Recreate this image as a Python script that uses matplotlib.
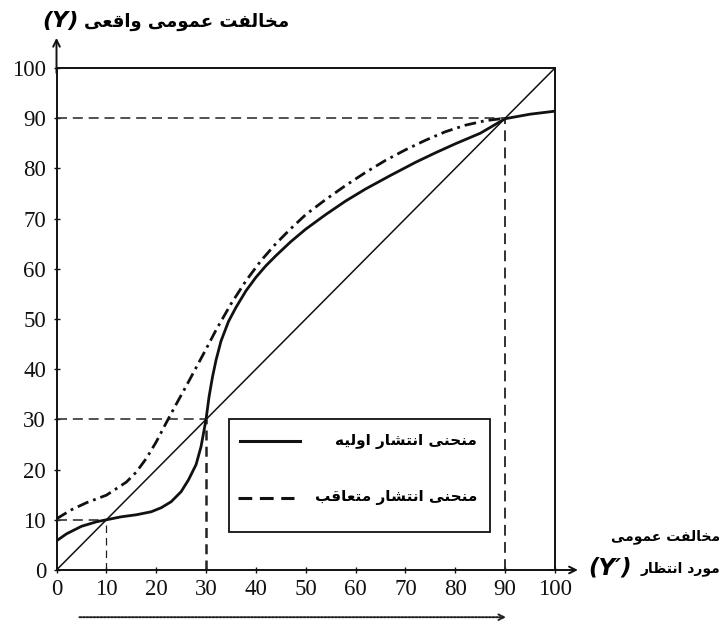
import matplotlib
matplotlib.use("Agg")
import matplotlib.pyplot as plt
from matplotlib.patches import Rectangle
from matplotlib.lines import Line2D

# ---------------- data ----------------
ticks = [0, 10, 20, 30, 40, 50, 60, 70, 80, 90, 100]
tick_labels = [str(t) for t in ticks]

# initial spread curve (solid)
initial_x = [0, 2, 5, 8, 10, 13, 16, 19, 21, 23, 25, 26.5, 28, 29, 30, 30.6, 31.3, 32, 33,
             34.5, 36, 38, 40, 42, 44, 47, 50, 54, 58, 62, 67, 72, 76, 80, 85, 90, 95, 100]
initial_y = [5.8, 7.2, 8.7, 9.6, 10, 10.6, 11.0, 11.6, 12.4, 13.6, 15.6, 18.0, 21.0, 24.6, 30,
             34.5, 38.5, 41.8, 45.6, 49.5, 52.3, 55.6, 58.3, 60.6, 62.6, 65.4, 67.9, 70.8,
             73.5, 75.9, 78.6, 81.2, 83.1, 84.9, 87.0, 89.9, 90.8, 91.4]

# subsequent spread curve (dash-dot)
subseq_x = [0, 3, 6, 10, 14, 16, 18, 20, 22, 24, 26, 28, 30, 32, 35, 38, 41, 44, 47, 50,
            54, 58, 62, 66, 70, 74, 78, 82, 86, 90]
subseq_y = [10.2, 12.0, 13.4, 14.9, 17.5, 19.5, 22.2, 25.5, 29.3, 33.0, 36.6, 40.3, 44.0,
            47.8, 53.0, 57.6, 61.6, 65.0, 68.0, 70.8, 73.8, 76.6, 79.2, 81.6, 83.7, 85.6,
            87.3, 88.6, 89.5, 90]

# equality line
diag_x = [0, 100]
diag_y = [0, 100]

# reference (equilibrium) levels
ref_levels = [10, 30, 90]

title_fa = "مخالفت عمومی واقعی"
xlabel_fa_1 = "مخالفت عمومی"
xlabel_fa_2 = "مورد انتظار"
legend_fa_1 = "منحنی انتشار اولیه"
legend_fa_2 = "منحنی انتشار متعاقب"

# ---------------- Persian shaping (presentation forms, visual order) ----------------
FORMS = {  # isolated, final, initial, medial
    'ا': ('\uFE8D', '\uFE8E', None, None),
    'د': ('\uFEA9', '\uFEAA', None, None),
    'ر': ('\uFEAD', '\uFEAE', None, None),
    'و': ('\uFEED', '\uFEEE', None, None),
    'ب': ('\uFE8F', '\uFE90', '\uFE91', '\uFE92'),
    'ت': ('\uFE95', '\uFE96', '\uFE97', '\uFE98'),
    'ح': ('\uFEA1', '\uFEA2', '\uFEA3', '\uFEA4'),
    'خ': ('\uFEA5', '\uFEA6', '\uFEA7', '\uFEA8'),
    'ش': ('\uFEB5', '\uFEB6', '\uFEB7', '\uFEB8'),
    'ظ': ('\uFEC5', '\uFEC6', '\uFEC7', '\uFEC8'),
    'ع': ('\uFEC9', '\uFECA', '\uFECB', '\uFECC'),
    'ف': ('\uFED1', '\uFED2', '\uFED3', '\uFED4'),
    'ق': ('\uFED5', '\uFED6', '\uFED7', '\uFED8'),
    'ل': ('\uFEDD', '\uFEDE', '\uFEDF', '\uFEE0'),
    'م': ('\uFEE1', '\uFEE2', '\uFEE3', '\uFEE4'),
    'ن': ('\uFEE5', '\uFEE6', '\uFEE7', '\uFEE8'),
    'ه': ('\uFEE9', '\uFEEA', '\uFEEB', '\uFEEC'),
    'ی': ('\uFEEF', '\uFEF0', '\uFEF3', '\uFEF4'),
}


def shape(text):
    out = []
    n = len(text)
    for i, ch in enumerate(text):
        if ch not in FORMS:
            out.append(ch)
            continue
        prev = text[i - 1] if i > 0 else None
        nxt = text[i + 1] if i < n - 1 else None
        joins_prev = prev in FORMS and FORMS[prev][2] is not None
        joins_next = FORMS[ch][2] is not None and nxt in FORMS
        iso, fin, ini, med = FORMS[ch]
        if joins_prev and joins_next:
            out.append(med)
        elif joins_prev:
            out.append(fin)
        elif joins_next:
            out.append(ini)
        else:
            out.append(iso)
    return "".join(out)[::-1]


FA = ["DejaVu Sans"]
NUM = ["Liberation Serif", "DejaVu Serif"]
INK = "#111111"

# ---------------- figure ----------------
W, H = 722, 625
fig = plt.figure(figsize=(W / 100, H / 100), dpi=100)
ax = fig.add_axes([56.5 / W, 55 / H, 498.5 / W, 502 / H])
ax.set_xlim(0, 100)
ax.set_ylim(0, 100)

for s in ax.spines.values():
    s.set_linewidth(1.4)
    s.set_color(INK)

ax.set_xticks(ticks)
ax.set_xticklabels(tick_labels, fontfamily=NUM, fontsize=16.5)
ax.set_yticks(ticks)
ax.set_yticklabels(tick_labels, fontfamily=NUM, fontsize=16.5)
ax.tick_params(axis="both", direction="inout", length=5, width=1.0, colors=INK)
ax.tick_params(axis="x", pad=4)
ax.tick_params(axis="y", pad=5)

# axis arrows
ax.annotate("", xy=(104.6, 0), xytext=(99, 0), annotation_clip=False,
            arrowprops=dict(arrowstyle="->", lw=1.4, color=INK, mutation_scale=12,
                            shrinkA=0, shrinkB=0))
ax.annotate("", xy=(0, 106), xytext=(0, 99), annotation_clip=False,
            arrowprops=dict(arrowstyle="->", lw=1.4, color=INK, mutation_scale=12,
                            shrinkA=0, shrinkB=0))

# dashed reference lines
for v in ref_levels:
    ax.plot([0, v], [v, v], color="#333333", lw=1.2, linestyle=(0, (6, 3.5)), zorder=2)
vstyles = {10: (0.9, (6, 4)), 30: (1.8, (4, 2.5)), 90: (1.3, (6, 3.5))}
for v in ref_levels:
    lw, ds = vstyles[v]
    ax.plot([v, v], [0, v], color="#222222", lw=lw, linestyle=(0, ds), zorder=2)

# diagonal
ax.plot(diag_x, diag_y, color=INK, lw=1.1, zorder=3)

# curves
ax.plot(initial_x, initial_y, color=INK, lw=2.0, zorder=4)
ax.plot(subseq_x, subseq_y, color=INK, lw=2.0, linestyle=(0, (4.2, 1.8, 1.0, 1.8)), zorder=4)

# legend box (manual, to mimic the right-aligned Persian labels)
ax.add_patch(Rectangle((34.7, 7.6), 52.2, 22.4, fill=True, facecolor="white",
                       edgecolor=INK, lw=1.3, zorder=5))
ax.add_line(Line2D([36.8, 48.8], [25.6, 25.6], color=INK, lw=2.2, zorder=6))
ax.add_line(Line2D([36.4, 47.6], [14.4, 14.4], color=INK, lw=2.2,
                   linestyle=(0, (4.5, 2.5)), zorder=6))
ax.text(84.4, 25.6, shape(legend_fa_1), ha="right", va="center", fontfamily=FA,
        fontsize=11, fontweight="bold", zorder=6)
ax.text(84.4, 14.4, shape(legend_fa_2), ha="right", va="center", fontfamily=FA,
        fontsize=11, fontweight="bold", zorder=6)

# bottom dotted arrow
ax.annotate("", xy=(90.2, -9.4), xytext=(4.6, -9.4), annotation_clip=False,
            arrowprops=dict(arrowstyle="->", lw=1.4, color="#222222", linestyle=(0, (1, 0.8)),
                            mutation_scale=10, shrinkA=0, shrinkB=0))

# titles
fig.text(84 / W, 1 - 22 / H, shape(title_fa), ha="left", va="center", fontfamily=FA,
         fontsize=13, fontweight="bold")
fig.text(79 / W, 1 - 21 / H, "(Y)", ha="right", va="center", fontfamily=["DejaVu Sans"],
         fontsize=16, fontweight="bold", fontstyle="italic")
fig.text(720 / W, 1 - 537 / H, shape(xlabel_fa_1), ha="right", va="center", fontfamily=FA,
         fontsize=10, fontweight="bold")
fig.text(720 / W, 1 - 569 / H, shape(xlabel_fa_2), ha="right", va="center", fontfamily=FA,
         fontsize=10, fontweight="bold")
fig.text(632 / W, 1 - 568 / H, "(Y\u2032)", ha="right", va="center", fontfamily=["DejaVu Sans"],
         fontsize=16.5, fontweight="bold", fontstyle="italic")

fig.savefig("out.png", dpi=100, facecolor="white")
